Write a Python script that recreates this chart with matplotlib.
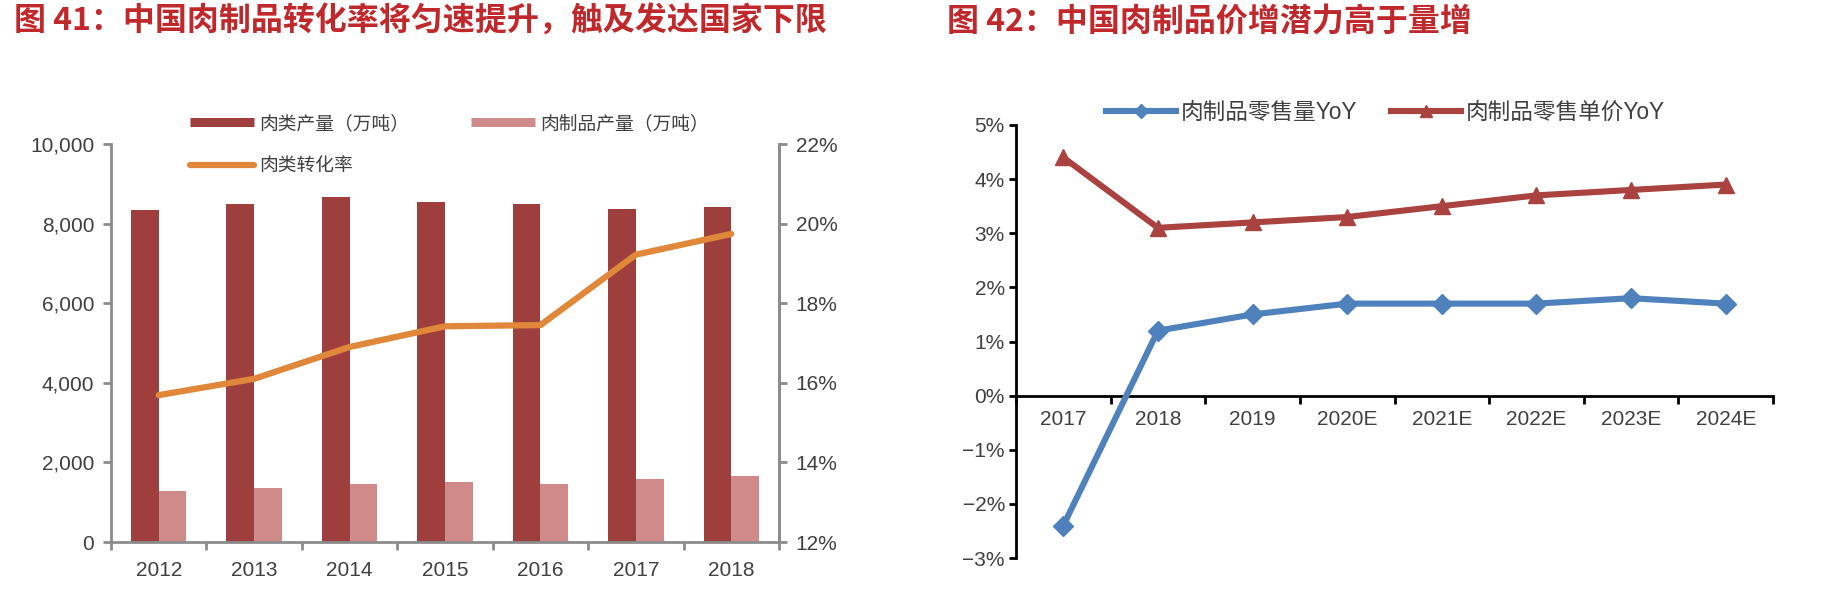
import matplotlib
matplotlib.use('Agg')
import matplotlib.pyplot as plt
from matplotlib.lines import Line2D
import numpy as np

plt.rcParams['font.family'] = ['Liberation Sans', 'Noto Sans CJK SC', 'DejaVu Sans']

# ---------------- data ----------------
years_left = ['2012', '2013', '2014', '2015', '2016', '2017', '2018']
meat_output = [8330, 8500, 8680, 8550, 8500, 8375, 8425]          # 肉类产量（万吨）
meat_product_output = [1280, 1365, 1445, 1495, 1445, 1580, 1655]  # 肉制品产量（万吨）
conversion_rate = [15.69, 16.10, 16.90, 17.42, 17.45, 19.22, 19.74]  # 肉类转化率 %

left_yticks = [0, 2000, 4000, 6000, 8000, 10000]
right_yticks = [12, 14, 16, 18, 20, 22]

years_right = ['2017', '2018', '2019', '2020E', '2021E', '2022E', '2023E', '2024E']
volume_yoy = [-2.4, 1.2, 1.5, 1.7, 1.7, 1.7, 1.8, 1.7]   # 肉制品零售量YoY %
price_yoy = [4.4, 3.1, 3.2, 3.3, 3.5, 3.7, 3.8, 3.9]     # 肉制品零售单价YoY %
yoy_ticks = [-3, -2, -1, 0, 1, 2, 3, 4, 5]

title_left = '图 41：中国肉制品转化率将匀速提升，触及发达国家下限'
title_right = '图 42：中国肉制品价增潜力高于量增'

# ---------------- style ----------------
W, H = 1826, 616
fig = plt.figure(figsize=(W / 100, H / 100), dpi=100)

TITLE_RED = '#C0282B'
DARK = '#9E3F3E'
LIGHT = '#D08A8A'
ORANGE = '#E0873A'
BLUE = '#4F81BD'
RED = '#AA4240'
TXT = '#404040'
GRAY = '#8C8C8C'
TICK_FS = 15

fig.text(14 / W, 1 - 6 / H, title_left, ha='left', va='top', fontsize=23,
         fontweight='bold', color=TITLE_RED, family=['Noto Sans CJK SC'])
fig.text(947 / W, 1 - 6 / H, title_right, ha='left', va='top', fontsize=23,
         fontweight='bold', color=TITLE_RED, family=['Noto Sans CJK SC'])

# ---------------- left chart ----------------
ax = fig.add_axes([111 / W, 1 - 542 / H, 668 / W, 398 / H])
x = np.arange(len(years_left))
bw = 0.29
ax.bar(x - bw / 2, meat_output, width=bw, color=DARK, zorder=2)
ax.bar(x + bw / 2, meat_product_output, width=bw, color=LIGHT, zorder=2)
ax.set_xlim(-0.5, len(years_left) - 0.5)
ax.set_ylim(0, 10000)
ax.set_yticks(left_yticks)
ax.set_yticklabels([f'{v:,}' for v in left_yticks])
ax.set_xticks(x)
ax.set_xticklabels(years_left)
ax.set_xticks(np.arange(-0.5, len(years_left)), minor=True)
ax.tick_params(axis='x', which='major', length=0, pad=14, labelsize=TICK_FS, colors=TXT)
ax.tick_params(axis='x', which='minor', length=6, width=2, color=GRAY, direction='out')
ax.tick_params(axis='y', length=6, width=2, color=GRAY, labelsize=TICK_FS,
               labelcolor=TXT, pad=6)
ax.spines['top'].set_visible(False)
for s in ['left', 'bottom', 'right']:
    ax.spines[s].set_color(GRAY)
    ax.spines[s].set_linewidth(2)

ax2 = ax.twinx()
ax2.plot(x, conversion_rate, color=ORANGE, lw=4.5, solid_joinstyle='round',
         solid_capstyle='round', zorder=3)
ax2.set_ylim(12, 22)
ax2.set_yticks(right_yticks)
ax2.set_yticklabels([f'{v}%' for v in right_yticks])
ax2.tick_params(axis='y', length=6, width=2, color=GRAY, labelsize=TICK_FS,
                labelcolor=TXT, pad=6)
for s in ['top', 'left', 'bottom']:
    ax2.spines[s].set_visible(False)
ax2.spines['right'].set_color(GRAY)
ax2.spines['right'].set_linewidth(2)

LEG_FS1 = 13.5
h_dark = Line2D([], [], color=DARK, lw=6.5, solid_capstyle='butt')
h_light = Line2D([], [], color=LIGHT, lw=6.5, solid_capstyle='butt')
h_or = Line2D([], [], color=ORANGE, lw=4.5, solid_capstyle='round')
leg = fig.legend([h_dark, h_or, h_light], ['肉类产量（万吨）', '肉类转化率', '肉制品产量（万吨）'],
                 loc='upper left', bbox_to_anchor=(190 / W, 1 - 115 / H), ncol=2,
                 frameon=False, fontsize=LEG_FS1, handlelength=3.4, handletextpad=0.3,
                 columnspacing=3.3, labelspacing=1.38, borderaxespad=0, borderpad=0)
for t in leg.get_texts():
    t.set_color(TXT)

# ---------------- right chart ----------------
bx = fig.add_axes([1016 / W, 1 - 558 / H, 757 / W, 433 / H])
x2 = np.arange(len(years_right))
bx.plot(x2, volume_yoy, color=BLUE, lw=4.4, marker='D', markersize=10,
        solid_joinstyle='round', zorder=3)
bx.plot(x2, price_yoy, color=RED, lw=4.4, marker='^', markersize=12,
        solid_joinstyle='round', zorder=3)
bx.set_xlim(-0.5, len(years_right) - 0.5)
bx.set_ylim(-3, 5)
bx.set_yticks(yoy_ticks)
bx.set_yticklabels([(f'{v}%').replace('-', '\u2212') for v in yoy_ticks])
bx.set_xticks(x2)
bx.set_xticklabels(years_right)
bx.set_xticks(np.arange(-0.5, len(years_right)), minor=True)
bx.spines['bottom'].set_position(('data', 0))
bx.spines['top'].set_visible(False)
bx.spines['right'].set_visible(False)
for s in ['left', 'bottom']:
    bx.spines[s].set_color('black')
    bx.spines[s].set_linewidth(2)
bx.tick_params(axis='x', which='major', length=0, pad=10, labelsize=TICK_FS, colors=TXT)
bx.tick_params(axis='x', which='minor', length=6, width=2, color='black', direction='out')
bx.tick_params(axis='y', length=5, width=2, color='black', labelsize=TICK_FS,
               labelcolor=TXT, pad=3)

LEG_FS2 = 16.3
h_blue = Line2D([], [], color=BLUE, lw=4.4, marker='D', markersize=7)
h_red = Line2D([], [], color=RED, lw=4.4, marker='^', markersize=9)
leg2 = fig.legend([h_blue, h_red], ['肉制品零售量YoY', '肉制品零售单价YoY'],
                  loc='upper left', bbox_to_anchor=(1106 / W, 1 - 101 / H), ncol=2,
                  frameon=False, fontsize=LEG_FS2, handlelength=3.1, handletextpad=0.2,
                  columnspacing=1.5, borderaxespad=0, borderpad=0, numpoints=1)
for t in leg2.get_texts():
    t.set_color(TXT)

fig.savefig('out.png', dpi=100)
